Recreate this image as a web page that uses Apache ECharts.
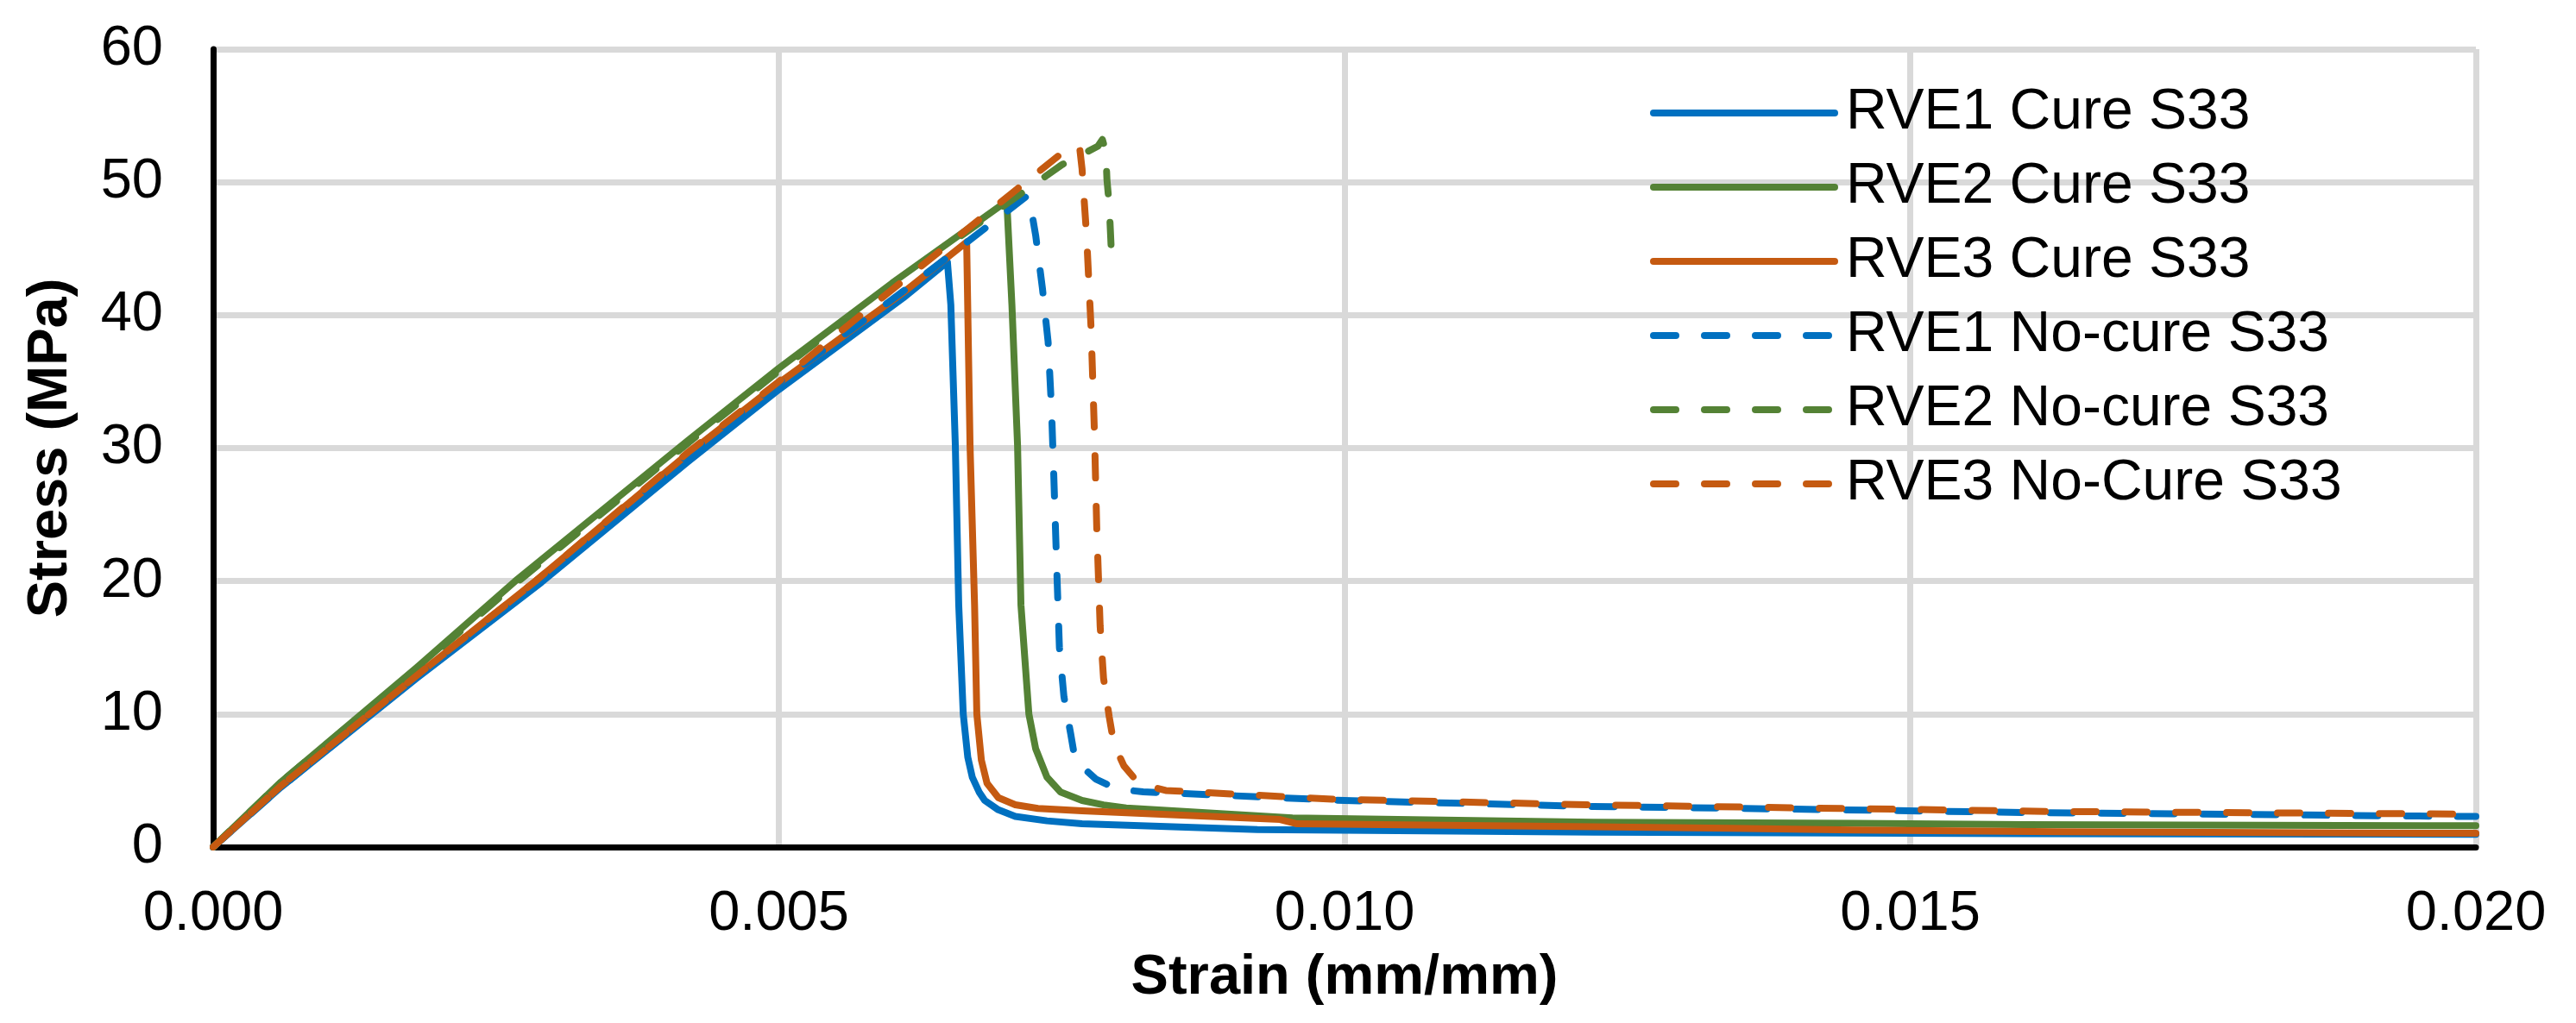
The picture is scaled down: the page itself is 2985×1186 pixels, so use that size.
<!DOCTYPE html>
<html>
<head>
<meta charset="utf-8">
<script src="https://cdn.jsdelivr.net/npm/echarts@6/dist/echarts.min.js"></script>
<style>
  html, body { margin: 0; padding: 0; background: #fff; }
  #chart { width: 2985px; height: 1186px; }
</style>
</head>
<body>
<div id="chart"></div>
<script>
// legend names / colours, same order as the reference
var seriesNames = ['RVE1 Cure S33', 'RVE2 Cure S33', 'RVE3 Cure S33',
  'RVE1 No-cure S33', 'RVE2 No-cure S33', 'RVE3 No-Cure S33'];
var seriesColors = ['#0070C0', '#548235', '#C55A11', '#0070C0', '#548235', '#C55A11'];
var seriesDashed = [false, false, false, true, true, true];

// [strain (mm/mm), stress (MPa)]
var rve1Cure = [[0, 0], [0.0006, 4.5], [0.0018, 12.7], [0.0029, 19.9], [0.0042, 29.0], [0.005, 34.4],
  [0.0061, 41.3], [0.00649, 44.0], [0.00652, 40.8], [0.00656, 30.2], [0.00659, 18.2], [0.00663, 10],
  [0.00667, 6.75], [0.00671, 5.25], [0.00677, 4.14], [0.00682, 3.5], [0.00694, 2.8], [0.00709, 2.3],
  [0.00737, 1.97], [0.00768, 1.75], [0.00923, 1.32], [0.0122, 1.12], [0.016, 1.0], [0.02, 0.95]];
var rve2Cure = [[0, 0], [0.0006, 4.9], [0.0018, 13.5], [0.00267, 20], [0.0042, 30.6], [0.005, 36],
  [0.006, 42.4], [0.007015, 48.56], [0.00706, 40.8], [0.00711, 30.2], [0.00714, 18.2], [0.00721, 10],
  [0.00727, 7.4], [0.00737, 5.25], [0.00749, 4.14], [0.00768, 3.5], [0.00787, 3.17], [0.00807, 2.94],
  [0.00954, 2.19], [0.0122, 1.86], [0.0145, 1.78], [0.016, 1.69], [0.0195, 1.6], [0.02, 1.6]];
var rve3Cure = [[0, 0], [0.0006, 4.6], [0.0018, 12.9], [0.00285, 20], [0.0042, 29.6], [0.005, 34.9],
  [0.0061, 41.7], [0.00666, 45.5], [0.00669, 30.2], [0.00673, 18.2], [0.00675, 10], [0.00679, 6.54],
  [0.00684, 4.8], [0.00694, 3.71], [0.00709, 3.18], [0.00729, 2.9], [0.00768, 2.72], [0.00943, 2.07],
  [0.00958, 1.75], [0.0122, 1.53], [0.0134, 1.41], [0.0145, 1.28], [0.0163, 1.15], [0.0195, 1.04],
  [0.02, 1.03]];
var rve1NoCure = [[0, 0], [0.0006, 4.5], [0.0018, 12.8], [0.0029, 20], [0.0042, 29.5], [0.005, 34.9],
  [0.0061, 41.8], [0.0072, 49.0], [0.00722, 48.5], [0.00727, 46], [0.00733, 42], [0.00738, 38],
  [0.00741, 33], [0.00743, 28], [0.00746, 20], [0.00748, 15], [0.00752, 11.3], [0.00758, 8.5],
  [0.00762, 6.5], [0.0078, 5.12], [0.00799, 4.36], [0.00822, 4.15], [0.01, 3.5], [0.0122, 3.05],
  [0.0129, 2.98], [0.016, 2.6], [0.0195, 2.33], [0.02, 2.3]];
var rve2NoCure = [[0, 0], [0.0006, 4.9], [0.0018, 13.4], [0.0027, 20], [0.0042, 30.4], [0.005, 35.8],
  [0.006, 42.3], [0.007, 48.3], [0.0075, 51.3], [0.00782, 52.7], [0.00786, 53.2], [0.00789, 52.3],
  [0.0079, 50.2], [0.00792, 48.3], [0.00794, 44.6]];
var rve3NoCure = [[0, 0], [0.0006, 4.6], [0.0018, 12.9], [0.00285, 20], [0.0042, 29.7], [0.005, 35],
  [0.0061, 42.6], [0.00754, 52.45], [0.0076, 52.8], [0.00766, 52.5], [0.00768, 51], [0.00772, 46],
  [0.00776, 39], [0.00779, 31], [0.00781, 24], [0.00784, 16.6], [0.00787, 12.7], [0.00792, 9.8],
  [0.00796, 7.8], [0.00805, 6.1], [0.00818, 4.8], [0.00842, 4.25], [0.00989, 3.6], [0.0122, 3.17],
  [0.0162, 2.68], [0.0195, 2.5], [0.02, 2.48]];
var allData = [rve1Cure, rve2Cure, rve3Cure, rve1NoCure, rve2NoCure, rve3NoCure];

var font = '"Liberation Sans", Arial, sans-serif';
var chart = echarts.init(document.getElementById('chart'), null, { renderer: 'canvas' });

var series = [];
for (var i = 0; i < allData.length; i++) {
  series.push({
    name: seriesNames[i],
    type: 'line',
    data: allData[i],
    symbol: 'none',
    smooth: false,
    lineStyle: {
      color: seriesColors[i],
      width: 8,
      type: seriesDashed[i] ? [26, 33] : 'solid',
      cap: 'round',
      join: 'round'
    },
    itemStyle: { color: seriesColors[i] }
  });
}

var option = {
  animation: false,
  backgroundColor: '#ffffff',
  grid: { left: 247, right: 116, top: 57, bottom: 204 },
  legend: {
    orient: 'vertical',
    left: 1907,
    top: 93,
    itemWidth: 210,
    itemHeight: 20,
    itemGap: 20,
    data: seriesNames,
    itemStyle: { opacity: 0 },
    lineStyle: { width: 8, cap: 'round' },
    textStyle: { fontFamily: font, fontSize: 66, color: '#000', lineHeight: 66, padding: [0, 0, 0, 8] }
  },
  xAxis: {
    type: 'value',
    min: 0,
    max: 0.02,
    interval: 0.005,
    name: 'Strain (mm/mm)',
    nameLocation: 'middle',
    nameGap: 120,
    nameTextStyle: { fontFamily: font, fontSize: 65, fontWeight: 'bold', color: '#000' },
    axisLine: { show: true, onZero: false, lineStyle: { color: '#000', width: 7 } },
    axisTick: { show: false },
    axisLabel: {
      fontFamily: font, fontSize: 65, color: '#000', margin: 46,
      formatter: function (v) { return v.toFixed(3); }
    },
    splitLine: { show: true, lineStyle: { color: '#D9D9D9', width: 7 } }
  },
  yAxis: {
    type: 'value',
    min: 0,
    max: 60,
    interval: 10,
    name: 'Stress (MPa)',
    nameLocation: 'middle',
    nameGap: 155,
    nameTextStyle: { fontFamily: font, fontSize: 65, fontWeight: 'bold', color: '#000' },
    axisLine: { show: true, lineStyle: { color: '#000', width: 7 } },
    axisTick: { show: false },
    axisLabel: { fontFamily: font, fontSize: 65, color: '#000', margin: 58 },
    splitLine: { show: true, lineStyle: { color: '#D9D9D9', width: 7 } }
  },
  series: series
};

chart.setOption(option);
</script>
</body>
</html>
